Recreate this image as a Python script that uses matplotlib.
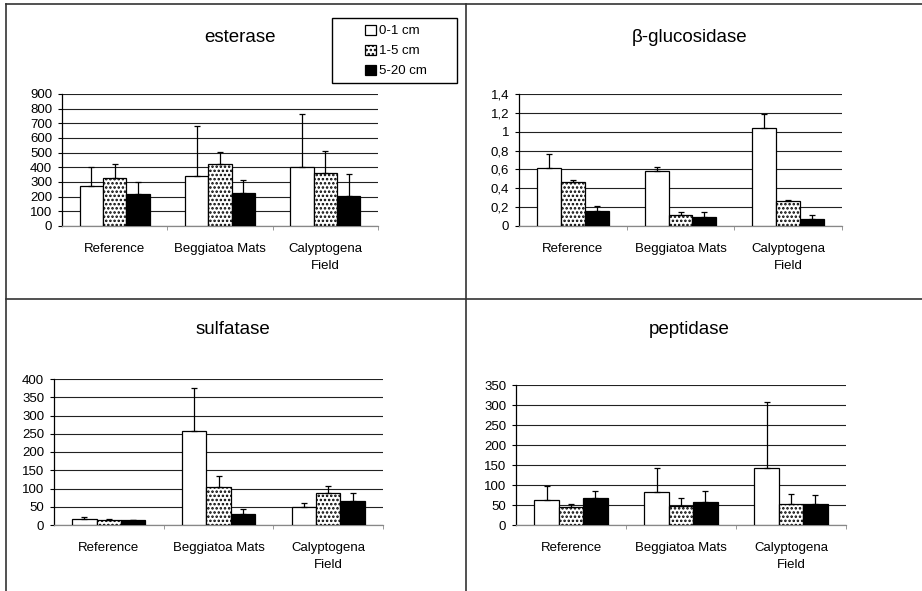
'''
Enzyme activities at three sediment depths, four panels
'''
#imports
import numpy as np
import matplotlib
matplotlib.use('Agg')
import matplotlib.pyplot as plt
from matplotlib.lines import Line2D
from matplotlib.patches import Rectangle
from matplotlib.ticker import FuncFormatter

plt.rcParams['font.family'] = ['Liberation Sans', 'DejaVu Sans']
plt.rcParams['hatch.linewidth'] = 1.2

categories = ['Reference', 'Beggiatoa Mats', 'Calyptogena\nField']
depths = ['0-1 cm', '1-5 cm', '5-20 cm']

# means per depth (rows) and site (columns), upper error bar length
esterase_mean = [[273, 342, 405], [330, 421, 362], [219, 225, 203]]
esterase_err = [[128, 337, 356], [94, 82, 146], [79, 92, 152]]
esterase_ticks = [0, 100, 200, 300, 400, 500, 600, 700, 800, 900]

glucosidase_mean = [[0.62, 0.58, 1.04], [0.47, 0.12, 0.26], [0.16, 0.10, 0.07]]
glucosidase_err = [[0.14, 0.05, 0.15], [0.02, 0.03, 0.02], [0.05, 0.05, 0.05]]
glucosidase_ticks = [0, 0.2, 0.4, 0.6, 0.8, 1.0, 1.2, 1.4]

sulfatase_mean = [[17, 258, 49], [15, 103, 87], [13, 31, 65]]
sulfatase_err = [[5, 116, 10], [2, 32, 21], [1, 14, 24]]
sulfatase_ticks = [0, 50, 100, 150, 200, 250, 300, 350, 400]

peptidase_mean = [[63, 82, 142], [46, 47, 53], [67, 57, 53]]
peptidase_err = [[35, 60, 166], [7, 21, 24], [19, 29, 22]]
peptidase_ticks = [0, 50, 100, 150, 200, 250, 300, 350]

W, H = 922, 591

def px(x0, y0, x1, y1):
    '''pixel box (top-left origin) -> figure fraction rect'''
    return [x0/W, 1-y1/H, (x1-x0)/W, (y1-y0)/H]

def comma(v, pos):
    return ('%g' % round(v, 3)).replace('.', ',')

def panel(fig, rect, title, title_xy, means, errs, ticks):
    ax = fig.add_axes(rect)
    x = np.arange(len(categories))
    w = 0.222
    styles = [dict(color='white', hatch=None),
              dict(color='white', hatch='....'),
              dict(color='black', hatch=None)]
    bars = []
    for i in range(len(depths)):
        b = ax.bar(x + (i-1)*w, means[i], w, color=styles[i]['color'],
                   hatch=styles[i]['hatch'], edgecolor='black', linewidth=0.9,
                   label=depths[i], zorder=3)
        ax.errorbar(x + (i-1)*w, means[i],
                    yerr=[np.zeros(len(errs[i])), errs[i]],
                    fmt='none', ecolor='black', elinewidth=0.9,
                    capsize=2.5, capthick=0.9, zorder=4)
        bars.append(b)
    ax.set_xlim(-0.5, 2.5)
    ax.set_ylim(0, ticks[-1])
    ax.set_yticks(ticks)
    ax.yaxis.set_major_formatter(FuncFormatter(comma))
    ax.yaxis.grid(True, color='#222222', linewidth=0.8, zorder=0)
    ax.set_xticks(x)
    ax.set_xticklabels(categories, fontsize=9.5, linespacing=1.6)
    ax.set_xticks([0.5, 1.5, 2.5], minor=True)
    ax.tick_params(axis='x', which='major', length=0, pad=12)
    ax.tick_params(axis='x', which='minor', length=3, color='#888888')
    ax.tick_params(axis='y', length=3, width=0.8, labelsize=9.5, pad=4)
    for s in ['top', 'right']:
        ax.spines[s].set_visible(False)
    ax.spines['left'].set_linewidth(0.9)
    ax.spines['bottom'].set_color('#888888')
    ax.spines['bottom'].set_linewidth(0.9)
    fig.text(title_xy[0]/W, 1 - title_xy[1]/H, title, fontsize=13.5,
             ha='center', va='center')
    return bars

fig = plt.figure(figsize=(W/100, H/100), dpi=100)

bars = panel(fig, px(62, 94, 378, 226), 'esterase', (240, 38),
             esterase_mean, esterase_err, esterase_ticks)
panel(fig, px(519, 94, 842, 226), 'β-glucosidase', (690, 38),
      glucosidase_mean, glucosidase_err, glucosidase_ticks)
panel(fig, px(54, 379, 383, 525), 'sulfatase', (233, 330),
      sulfatase_mean, sulfatase_err, sulfatase_ticks)
panel(fig, px(516, 385, 846, 525), 'peptidase', (689, 330),
      peptidase_mean, peptidase_err, peptidase_ticks)

# legend box
fig.add_artist(Rectangle((332/W, 1-83/H), 125/W, 65/H, transform=fig.transFigure,
                         facecolor='white', edgecolor='black', linewidth=1))
fig.legend(handles=bars, labels=depths, loc='center',
           bbox_to_anchor=(396/W, 1-51/H), frameon=False, fontsize=9.5,
           handlelength=0.8, handleheight=0.8, handletextpad=0.2,
           labelspacing=0.55, borderpad=0)

# panel frame lines
lc = '#333333'
fig.add_artist(Line2D([6/W, 6/W], [0, 1-4/H], color=lc, lw=1.2))
fig.add_artist(Line2D([6/W, 1], [1-4/H, 1-4/H], color=lc, lw=1.2))
fig.add_artist(Line2D([466/W, 466/W], [0, 1-4/H], color=lc, lw=1.2))
fig.add_artist(Line2D([6/W, 1], [1-299/H, 1-299/H], color=lc, lw=1.2))

fig.savefig('out.png', dpi=100)
